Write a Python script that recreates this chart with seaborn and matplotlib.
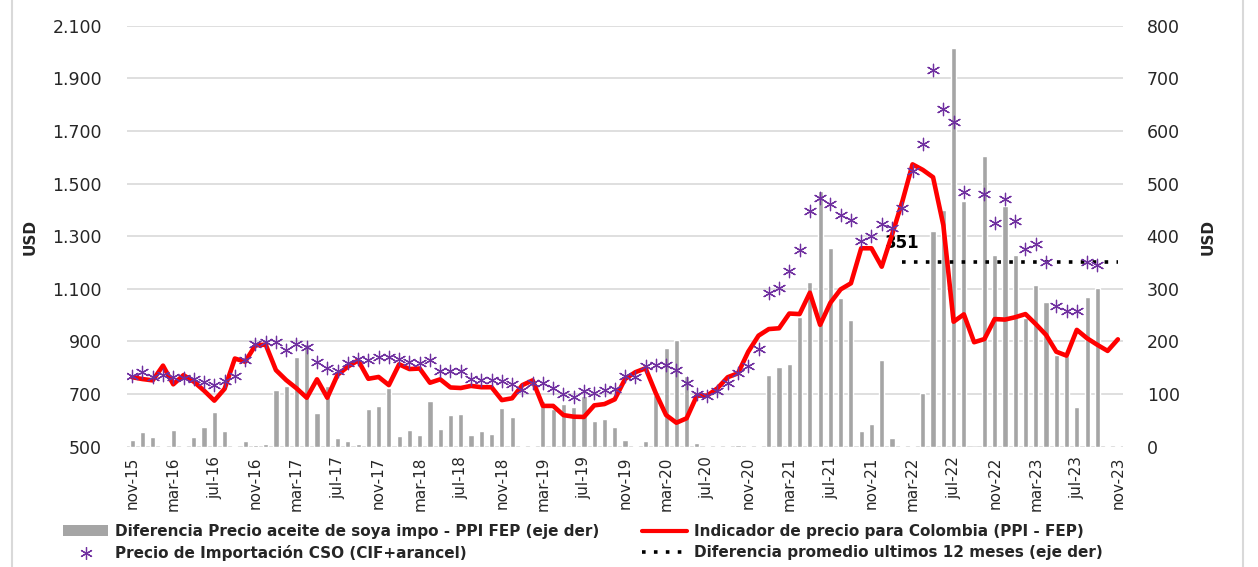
import numpy as np
import pandas as pd
import matplotlib
matplotlib.use("Agg")
import matplotlib.pyplot as plt
import matplotlib.ticker as mticker
from matplotlib.lines import Line2D
from matplotlib.patches import Patch
import seaborn as sns

# ---------------- data (monthly, nov-15 .. nov-23) ----------------
tick_labels = ["nov-15", "mar-16", "jul-16", "nov-16", "mar-17", "jul-17", "nov-17",
               "mar-18", "jul-18", "nov-18", "mar-19", "jul-19", "nov-19", "mar-20",
               "jul-20", "nov-20", "mar-21", "jul-21", "nov-21", "mar-22", "jul-22",
               "nov-22", "mar-23", "jul-23", "nov-23"]

# Diferencia precio aceite de soya importado - PPI FEP (right axis, USD)
diferencia = [12, 28, 19, 1, 32, 1, 19, 37, 66, 30, 1, 10, 3, 6, 108, 115,
              170, 195, 64, 115, 17, 11, 5, 72, 77, 111, 21, 31, 22, 87, 33, 60,
              63, 23, 30, 25, 74, 56, 1, 1, 86, 72, 82, 75, 97, 48, 52, 38,
              12, 1, 10, 98, 187, 202, 135, 7, 1, 1, 1, 4, 1, 1, 136, 152,
              158, 247, 312, 486, 378, 283, 241, 30, 44, 165, 16, 1, 1, 102, 410, 449,
              758, 467, 0, 553, 364, 457, 364, 245, 308, 274, 175, 172, 76, 284, 302, 1,
              1]

# Indicador de precio para Colombia (PPI - FEP) (left axis, USD)
indicador = [764, 757, 752, 808, 737, 772, 747, 713, 675, 720, 835, 823, 885, 888, 791, 753,
             722, 686, 756, 686, 773, 804, 828, 758, 765, 734, 813, 795, 797, 743, 756, 725,
             723, 731, 726, 726, 677, 684, 734, 752, 655, 655, 620, 614, 613, 657, 662, 680,
             757, 783, 798, 703, 620, 591, 608, 694, 694, 722, 764, 779, 861, 922, 947, 950,
             1006, 1004, 1085, 963, 1047, 1098, 1121, 1254, 1254, 1184, 1305, 1431, 1573, 1552, 1524, 1342,
             975, 1003, 897, 909, 985, 983, 992, 1004, 966, 925, 861, 846, 944, 912, 887, 864,
             908]

# Precio de importación CSO (CIF + arancel) (left axis, USD)
precio_cso = [769, 785, 764, 771, 764, 762, 759, 745, 734, 748, 767, 828, 890, 897, 898, 867,
              889, 880, 822, 798, 789, 817, 833, 828, 840, 842, 835, 822, 818, 828, 788, 788,
              788, 756, 753, 752, 750, 738, 714, 743, 743, 724, 700, 688, 713, 703, 717, 718,
              770, 764, 807, 809, 809, 791, 743, 700, 693, 712, 743, 781, 807, 871, 1085, 1104,
              1166, 1249, 1396, 1445, 1421, 1380, 1361, 1283, 1301, 1347, 1332, 1408, 1548, 1649, 1931, 1783,
              1733, 1469, np.nan, 1462, 1349, 1440, 1356, 1250, 1272, 1200, 1036, 1017, 1017, 1201, 1191, np.nan,
              np.nan]

promedio_12m = 351          # average difference, last 12 months (right axis)
promedio_desde = 75         # first month index of the average line

n = len(indicador)
idx = np.arange(n)
df = pd.DataFrame({"mes": idx, "diferencia": diferencia,
                   "indicador": indicador, "precio": precio_cso})
df_prom = pd.DataFrame({"mes": idx[promedio_desde:],
                        "prom": [promedio_12m] * (n - promedio_desde)})

# ---------------- styling ----------------
sns.set_theme(style="white")
plt.rcParams["font.family"] = ["DejaVu Sans"]

GRAY = "#A5A5A5"
RED = "#FF0000"
PURPLE = "#7030A0"
GRID = "#D9D9D9"
STAR = (6, 2, 0)   # six-armed asterisk

fig = plt.figure(figsize=(12.58, 5.67), dpi=100)
ax = fig.add_axes([0.101, 0.2122, 0.7917, 0.7425])
ax2 = ax.twinx()

# bars on the right axis, drawn underneath
sns.barplot(data=df, x="mes", y="diferencia", ax=ax2, color=GRAY, saturation=1,
            width=0.5, native_scale=True, errorbar=None, zorder=2)
sns.lineplot(data=df_prom, x="mes", y="prom", ax=ax2, color="black",
             linestyle=(0, (1, 2.3)), linewidth=2.6, zorder=3)
ax2.annotate(f"{promedio_12m}", (promedio_desde, promedio_12m), xytext=(0, 7),
             textcoords="offset points", ha="center", va="bottom",
             fontsize=12, fontweight="bold", color="black", zorder=4)

# lines and markers on the left axis, on top
ax.set_zorder(ax2.get_zorder() + 1)
ax.patch.set_visible(False)
sns.lineplot(data=df, x="mes", y="indicador", ax=ax, color=RED, linewidth=3.3)
sns.scatterplot(data=df, x="mes", y="precio", ax=ax, marker=STAR, s=80,
                color=PURPLE, linewidth=0.9, zorder=5)

# axes
ax.set_xlim(-0.5, n - 0.5)
ax.set_ylim(500, 2100)
ax2.set_ylim(0, 800)
ax.set_yticks(np.arange(500, 2101, 200))
ax2.set_yticks(np.arange(0, 801, 100))
ax.yaxis.set_major_formatter(mticker.FuncFormatter(lambda v, p: f"{v:,.0f}".replace(",", ".")))
ax.set_xticks(idx[::4])
ax.set_xticklabels(tick_labels, rotation=90, fontsize=11)

ax2.yaxis.grid(True, color=GRID, linewidth=1.2)
ax2.set_axisbelow(True)
ax.grid(False)
for a in (ax, ax2):
    for s in a.spines.values():
        s.set_visible(False)
    a.tick_params(length=0)
ax.tick_params(axis="y", labelsize=12.5, pad=18)
ax2.tick_params(axis="y", labelsize=12.5, pad=17)
ax.tick_params(axis="x", pad=7)
ax.set_xlabel("")
ax.set_ylabel("")
ax2.set_ylabel("")
fig.text(30 / 1258, 1 - 237 / 567, "USD", rotation=90, ha="center", va="center",
         fontsize=11, fontweight="bold")
fig.text(1208 / 1258, 1 - 237 / 567, "USD", rotation=90, ha="center", va="center",
         fontsize=11, fontweight="bold")

# legend
handles = [
    Patch(facecolor=GRAY, edgecolor="none"),
    Line2D([], [], marker=STAR, color=PURPLE, linestyle="none", markersize=9, markeredgewidth=0.9),
    Line2D([], [], color=RED, linewidth=3),
    Line2D([], [], color="black", linestyle=(0, (1, 2.3)), linewidth=2.6),
]
labels = [
    "Diferencia Precio aceite de soya impo - PPI FEP (eje der)",
    "Precio de Importación CSO (CIF+arancel)",
    "Indicador de precio para Colombia (PPI - FEP)",
    "Diferencia promedio ultimos 12 meses (eje der)",
]
fig.legend(handles, labels, ncol=2, loc="upper left",
           bbox_to_anchor=(63 / 1258, 1 - 524 / 567), frameon=False,
           prop={"weight": "bold", "size": 11}, handlelength=2.95,
           handletextpad=0.46, columnspacing=2.8, labelspacing=0.4, borderpad=0,
           borderaxespad=0)

# outer frame lines
for xpx in (12, 1243):
    fig.add_artist(Line2D([xpx / 1258] * 2, [0, 1], color=GRID, linewidth=1.5))

fig.savefig("out.png", dpi=100)
